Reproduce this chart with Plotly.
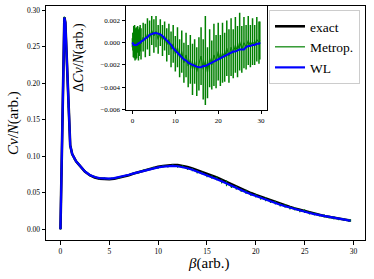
import plotly.graph_objects as go

beta = [0, 0.1, 0.2, 0.3, 0.4, 0.5, 0.6, 0.7, 0.8, 0.9, 1.0, 1.2, 1.4, 1.6, 1.8,
        2.0, 2.5, 3.0, 3.5, 4.0, 4.5, 5.0, 5.5, 6.0, 6.5, 7.0, 7.5, 8.0, 8.5, 9.0,
        9.5, 10.0, 10.5, 11.0, 11.5, 12.0, 12.5, 13.0, 13.5, 14.0, 14.5, 15.0, 15.5,
        16.0, 16.5, 17.0, 17.5, 18.0, 18.5, 19.0, 19.5, 20.0, 20.5, 21.0, 21.5, 22.0,
        22.5, 23.0, 23.5, 24.0, 24.5, 25.0, 25.5, 26.0, 26.5, 27.0, 27.5, 28.0, 28.5,
        29.0, 29.5, 29.7]

cv_exact = [0.000, 0.070, 0.145, 0.225, 0.290, 0.283, 0.245, 0.205, 0.168, 0.136,
            0.115, 0.103, 0.097, 0.093, 0.090, 0.0870, 0.0790, 0.0740, 0.0710, 0.0693,
            0.0685, 0.0685, 0.0692, 0.0705, 0.0722, 0.0741, 0.0762, 0.0782, 0.0802,
            0.0822, 0.0840, 0.0855, 0.0867, 0.0876, 0.0880, 0.0878, 0.0869, 0.0853,
            0.0833, 0.0810, 0.0786, 0.0762, 0.0736, 0.0708, 0.0678, 0.0646, 0.0614,
            0.0583, 0.0552, 0.0523, 0.0496, 0.0470, 0.0445, 0.0420, 0.0395, 0.0371,
            0.0347, 0.0325, 0.0304, 0.0284, 0.0265, 0.0247, 0.0230, 0.0213, 0.0198,
            0.0183, 0.0169, 0.0156, 0.0144, 0.0133, 0.0123, 0.0119]

d_wl = [0.0000, -0.0001, -0.0001, -0.0002, -0.0002, -0.0002, -0.0002, -0.0002,
        -0.0002, -0.0002, -0.0002, -0.0001, -0.0001, 0.0000, 0.0000, 0.0001, 0.0002,
        0.0004, 0.0005, 0.0007, 0.0008, 0.00085, 0.00087, 0.00083, 0.00075, 0.0006,
        0.0004, 0.0002, 0.0000, -0.0002, -0.0005, -0.0007, -0.0009, -0.0011, -0.0013,
        -0.0015, -0.0016, -0.0018, -0.0019, -0.0020, -0.0021, -0.00215, -0.0022,
        -0.0022, -0.0021, -0.0021, -0.0020, -0.0019, -0.0018, -0.0017, -0.0016,
        -0.0015, -0.0014, -0.0013, -0.0012, -0.0011, -0.0010, -0.0009, -0.0008,
        -0.0008, -0.0007, -0.0006, -0.0006, -0.0006, -0.0004, -0.0003, -0.0003,
        -0.0002, -0.0002, -0.0001, -0.0001, 0.0000]
e_wl = [0.00005] * len(beta)

d_met = [0.0000, 0.0001, -0.0002, 0.0003, -0.0001, 0.0002, -0.0003, 0.0001, -0.0002,
         0.0002, -0.0001, 0.0003, -0.0002, 0.0001, 0.0004, -0.0001, 0.0005, 0.0002,
         0.0008, 0.0004, 0.0011, 0.0006, 0.0010, 0.0003, 0.0009, 0.0002, 0.0006,
         -0.0002, 0.0003, -0.0006, -0.0001, -0.0010, -0.0004, -0.0014, -0.0008,
         -0.0018, -0.0011, -0.0021, -0.0015, -0.0024, -0.0017, -0.0026, -0.0019,
         -0.0012, -0.0024, -0.0016, -0.0027, -0.0014, -0.0020, -0.0011, -0.0017,
         -0.0008, -0.0016, -0.0009, -0.0013, -0.0005, -0.0012, -0.0004, -0.0010,
         -0.0002, -0.0008, 0.0001, -0.0006, 0.0000, -0.0004, 0.0002, -0.0003, 0.0001,
         -0.0002, 0.0003, 0.0000, 0.0002]

e_met = [0.0004, 0.0008, 0.0011, 0.0012, 0.0013, 0.0014, 0.0013, 0.0012, 0.0013,
         0.0012, 0.0013, 0.0012, 0.0014, 0.0013, 0.0012, 0.0014, 0.0013, 0.0015,
         0.0014, 0.0016, 0.0013, 0.0015, 0.0014, 0.0013, 0.0012, 0.0014, 0.0013,
         0.0015, 0.0014, 0.0016, 0.0017, 0.0016, 0.0018, 0.0017, 0.0019, 0.0018,
         0.0020, 0.0019, 0.0022, 0.0023, 0.0020, 0.0022, 0.0024, 0.0026, 0.0027,
         0.0040, 0.0023, 0.0026, 0.0022, 0.0028, 0.0024, 0.0026, 0.0023, 0.0027,
         0.0022, 0.0025, 0.0024, 0.0026, 0.0022, 0.0025, 0.0023, 0.0026, 0.0021,
         0.0023, 0.0020, 0.0022, 0.0019, 0.0021, 0.0018, 0.0020, 0.0019, 0.0017]

x_ticks = [0, 5, 10, 15, 20, 25, 30]
y_ticks = [0.00, 0.05, 0.10, 0.15, 0.20, 0.25, 0.30]
ix_ticks = [0, 10, 20, 30]
iy_ticks = [-0.006, -0.004, -0.002, 0.000, 0.002]

cv_wl = [c + d for c, d in zip(cv_exact, d_wl)]
cv_met = [c + d for c, d in zip(cv_exact, d_met)]

GREEN = "#008000"
BLUE = "#0000ff"
FONT = "Liberation Serif"

fig = go.Figure()
fig.add_trace(go.Scatter(x=beta, y=cv_exact, mode="lines", name="exact",
                         line=dict(color="black", width=2.6)))
fig.add_trace(go.Scatter(x=beta, y=cv_met, mode="lines", name="Metrop.",
                         line=dict(color=GREEN, width=1.2),
                         error_y=dict(type="data", array=e_met, color=GREEN,
                                      thickness=1.2, width=0)))
fig.add_trace(go.Scatter(x=beta, y=cv_wl, mode="lines", name="WL",
                         line=dict(color=BLUE, width=2.2),
                         error_y=dict(type="data", array=e_wl, color=BLUE,
                                      thickness=1, width=0)))
fig.add_trace(go.Scatter(x=beta, y=d_met, mode="lines", showlegend=False,
                         xaxis="x2", yaxis="y2",
                         line=dict(color=GREEN, width=1),
                         error_y=dict(type="data", array=e_met, color=GREEN,
                                      thickness=1.5, width=0)))
fig.add_trace(go.Scatter(x=beta, y=d_wl, mode="lines", showlegend=False,
                         xaxis="x2", yaxis="y2",
                         line=dict(color=BLUE, width=2),
                         error_y=dict(type="data", array=e_wl, color=BLUE,
                                      thickness=1, width=0)))

axis_common = dict(showline=True, linecolor="black", linewidth=1, mirror=True,
                   ticks="outside", ticklen=3.5, tickwidth=0.8, tickcolor="black",
                   showgrid=False, zeroline=False)

def px(x):
    return (x - 46) / 319

def py(y):
    return (240 - y) / 234

fig.update_layout(
    width=374, height=279,
    margin=dict(l=46, r=9, t=6, b=39),
    paper_bgcolor="white", plot_bgcolor="white",
    font=dict(family=FONT, color="black"),
    xaxis=dict(domain=[0, 1], range=[-1.48, 31.18], tickvals=x_ticks,
               tickfont=dict(size=7.5), **axis_common),
    yaxis=dict(domain=[0, 1], range=[-0.0146, 0.3055], tickvals=y_ticks,
               tickformat=".2f", tickfont=dict(size=7.5), **axis_common),
    xaxis2=dict(domain=[0.2508, 0.6918], range=[-1.5, 31.3], tickvals=ix_ticks,
                anchor="y2", tickfont=dict(size=7), **axis_common),
    yaxis2=dict(domain=[0.5556, 1.0], range=[-0.00605, 0.0033], tickvals=iy_ticks,
                tickformat=".3f", anchor="x2", tickfont=dict(size=7), **axis_common),
    legend=dict(x=0.699, y=py(10), xanchor="left", yanchor="top",
                bgcolor="white", bordercolor="#cccccc", borderwidth=1,
                font=dict(size=13.5, family=FONT)),
    showlegend=True,
    annotations=[
        dict(text="<i>Cv</i>/<i>N</i>(arb.)", xref="paper", yref="paper",
             x=px(13), y=0.5, textangle=-90, showarrow=False,
             xanchor="center", yanchor="middle", font=dict(size=15)),
        dict(text="<i>β</i>(arb.)", xref="paper", yref="paper",
             x=0.508, y=py(263), showarrow=False,
             xanchor="center", yanchor="middle", font=dict(size=15)),
        dict(text="Δ<i>Cv</i>/<i>N</i>(arb.)", xref="paper", yref="paper",
             x=px(79), y=0.778, textangle=-90, showarrow=False,
             xanchor="center", yanchor="middle", font=dict(size=14)),
    ],
)

fig.write_html("out.html", config={"displayModeBar": False},
               post_script="document.body.style.margin='0px';")
